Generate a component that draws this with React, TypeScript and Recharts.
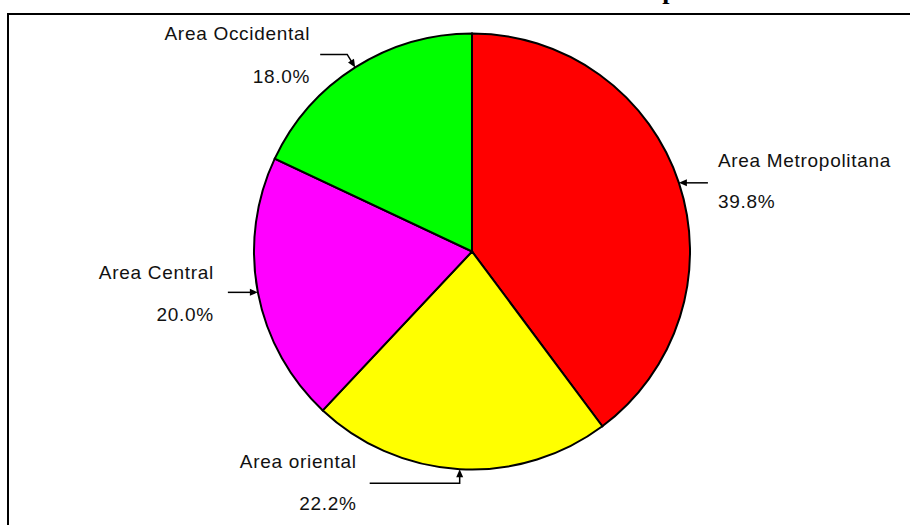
import { PieChart, Pie, Cell } from "recharts";

// slices, clockwise from 12 o'clock
const regions = ["Area Metropolitana", "Area oriental", "Area Central", "Area Occidental"];
const shares = [39.8, 22.2, 20.0, 18.0];
const colors = ["#FF0000", "#FFFF00", "#FF00FF", "#00FF00"];

const chartTitle = "Distribución por Área";

const data = regions.map((name, i) => ({ name, value: shares[i] }));
const total = shares.reduce((a, b) => a + b, 0);

const RAD = Math.PI / 180;
const FONT = "'Liberation Sans', Arial, sans-serif";

// where each callout sits relative to the point it points at
const calloutKind: Record<string, "right" | "left" | "bottom" | "topleft"> = {
  "Area Metropolitana": "right",
  "Area oriental": "bottom",
  "Area Central": "left",
  "Area Occidental": "topleft",
};

const arrowHead = (tx: number, ty: number, fx: number, fy: number) => {
  const len = Math.hypot(tx - fx, ty - fy) || 1;
  const dx = (tx - fx) / len;
  const dy = (ty - fy) / len;
  const bx = tx - dx * 8;
  const by = ty - dy * 8;
  const nx = -dy * 3.5;
  const ny = dx * 3.5;
  return `${tx},${ty} ${bx + nx},${by + ny} ${bx - nx},${by - ny}`;
};

const Callout = (props: any) => {
  const { cx, cy, midAngle, outerRadius, name, value } = props;
  const tx = cx + outerRadius * Math.cos(-midAngle * RAD);
  const ty = cy + outerRadius * Math.sin(-midAngle * RAD);
  const pct = ((value / total) * 100).toFixed(1) + "%";
  const kind = calloutKind[name];

  let pts: [number, number][] = [];
  let textX = 0;
  let anchor: "start" | "end" = "end";
  let nameY = 0;
  let pctY = 0;

  if (kind === "right") {
    pts = [[tx + 29, ty], [tx, ty]];
    textX = tx + 39;
    anchor = "start";
    nameY = ty - 22;
    pctY = ty + 19;
  } else if (kind === "left") {
    pts = [[tx - 30, ty], [tx, ty]];
    textX = tx - 44;
    nameY = ty - 20;
    pctY = ty + 22;
  } else if (kind === "bottom") {
    pts = [[tx - 90, ty + 14], [tx, ty + 14], [tx, ty]];
    textX = tx - 103;
    nameY = ty - 8;
    pctY = ty + 34;
  } else {
    pts = [[tx - 35, ty - 13], [tx - 8, ty - 13], [tx, ty]];
    textX = tx - 45;
    nameY = ty - 34;
    pctY = ty + 9;
  }

  const [fx, fy] = pts[pts.length - 2];
  const len = Math.hypot(tx - fx, ty - fy) || 1;
  const ex = tx - ((tx - fx) / len) * 6;
  const ey = ty - ((ty - fy) / len) * 6;
  const linePts = [...pts.slice(0, -1), [ex, ey]].map((p) => p.join(",")).join(" ");

  return (
    <g>
      <polyline points={linePts} fill="none" stroke="#000" strokeWidth={1.5} />
      <polygon points={arrowHead(tx, ty, fx, fy)} fill="#000" />
      <text
        x={textX}
        y={nameY}
        textAnchor={anchor}
        dominantBaseline="central"
        fontFamily={FONT}
        fontSize={19}
        letterSpacing={0.7}
        fill="#111"
      >
        {name}
      </text>
      <text
        x={textX}
        y={pctY}
        textAnchor={anchor}
        dominantBaseline="central"
        fontFamily={FONT}
        fontSize={19}
        letterSpacing={0.7}
        fill="#111"
      >
        {pct}
      </text>
    </g>
  );
};

export default function App() {
  return (
    <div style={{ position: "absolute", left: 0, top: 0, width: 910, height: 525, overflow: "hidden", background: "#fff" }}>
      <div
        style={{
          position: "absolute",
          left: 7,
          top: 13,
          width: 1000,
          height: 1000,
          border: "2px solid #000",
          boxSizing: "border-box",
        }}
      />
      <div style={{ position: "absolute", left: 0, top: 0 }}>
        <PieChart width={910} height={525} margin={{ top: 0, right: 0, bottom: 0, left: 0 }}>
          {/* title sits above the frame; only its descender shows */}
          <text
            x={517}
            y={-1.5}
            fontFamily="'Liberation Serif', 'Times New Roman', serif"
            fontWeight="bold"
            fontSize={26}
            fill="#000"
          >
            {chartTitle}
          </text>
          <Pie
            data={data}
            dataKey="value"
            nameKey="name"
            cx={472}
            cy={251.5}
            outerRadius={218}
            startAngle={90}
            endAngle={-270}
            stroke="#000"
            strokeWidth={2}
            label={Callout}
            labelLine={false}
            isAnimationActive={false}
          >
            {data.map((d, i) => (
              <Cell key={d.name} fill={colors[i]} />
            ))}
          </Pie>
        </PieChart>
      </div>
    </div>
  );
}
